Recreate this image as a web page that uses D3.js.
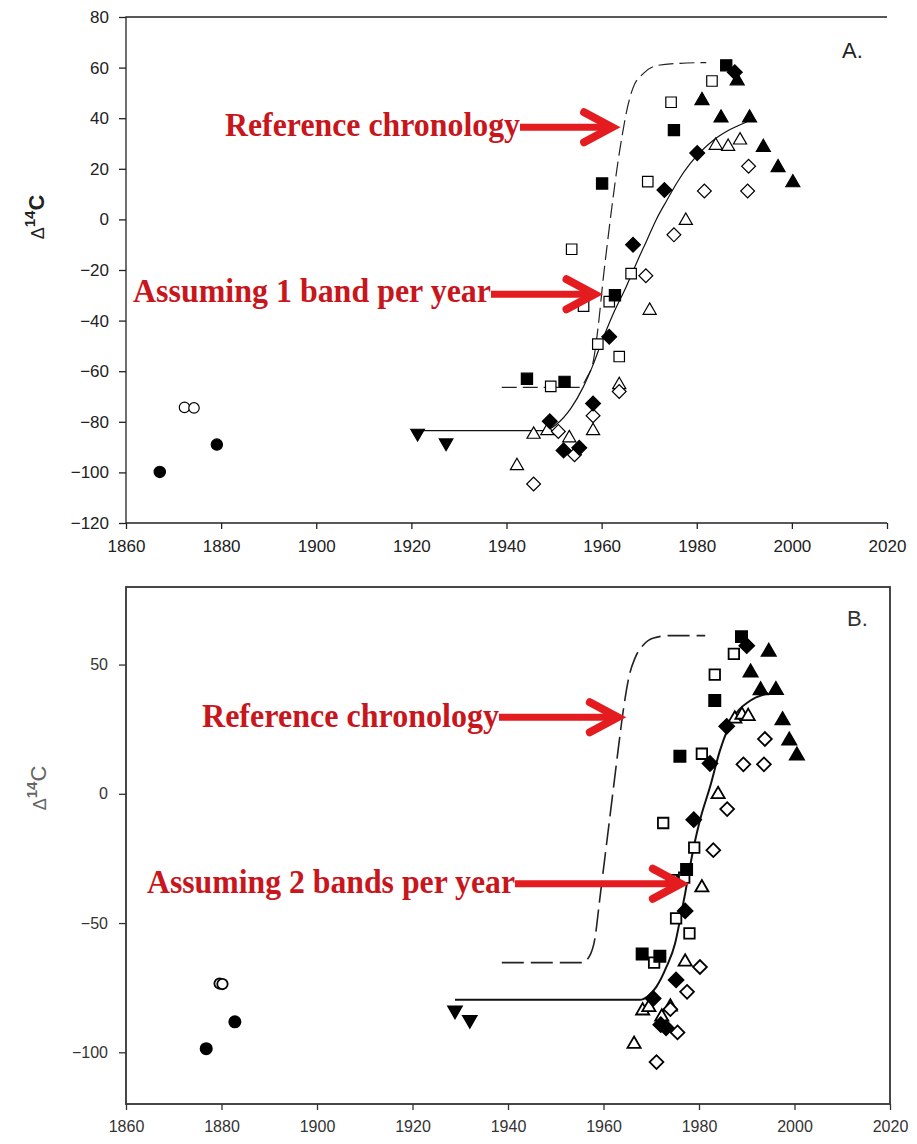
<!DOCTYPE html>
<html><head><meta charset="utf-8">
<script src="https://cdn.jsdelivr.net/npm/d3@7"></script>
<style>body{margin:0;background:#fff} svg{display:block}</style>
</head><body>
<script>
// ---------- shared ----------
const xTicks = [1860,1880,1900,1920,1940,1960,1980,2000,2020];
const yTicksA = [80,60,40,20,0,-20,-40,-60,-80,-100,-120];
const yTicksB = [50,0,-50,-100];

// ---------- Panel A (1 band per year) ----------
const A_filledCircle = [[1867.1,-99.8],[1879.1,-89]];
const A_openCircle   = [[1872.3,-74.3],[1874.3,-74.5]];
const A_downTri      = [[1921.3,-84.5],[1927.3,-88.3]];
const A_filledSquare = [[1944.3,-63],[1952.2,-64.2],[1960.1,14.2],[1962.8,-30],[1975.2,35.3],[1986.2,60.9]];
const A_openSquare   = [[1949.3,-66],[1953.7,-11.8],[1956.2,-34.3],[1959.2,-49.3],[1961.6,-32.5],[1963.7,-54.2],[1966.2,-21.4],[1969.7,14.9],[1974.6,46.3],[1983.2,54.7]];
const A_filledDiamond= [[1949.1,-79.8],[1952,-91.3],[1955.3,-90.3],[1958.2,-72.8],[1961.6,-46.4],[1966.6,-10],[1973.2,11.6],[1980.1,26.2],[1988,58.2]];
const A_openDiamond  = [[1945.7,-104.6],[1950.9,-83.8],[1954.3,-93],[1958.2,-77.6],[1963.7,-68],[1969.3,-22.3],[1975.2,-6.1],[1981.6,11.2],[1990.9,21],[1990.7,11.2]];
const A_openTri      = [[1942.2,-97.4],[1945.7,-85],[1948.6,-83.6],[1953.2,-86.4],[1958.2,-83.6],[1963.7,-65.4],[1970.1,-36],[1977.7,-0.5],[1984,29.2],[1986.6,28.8],[1989.1,31.3]];
const A_filledTri    = [[1981.1,47],[1985.1,40.1],[1988.5,54.8],[1991.1,40.1],[1994,28.5],[1997.1,20.5],[2000.2,14.5]];
const A_fit = [[1921,-83.5],[1948,-83.5],[1950.5,-81],[1953.6,-74.5],[1956.1,-66.4],[1958.2,-57.5],[1960,-48.5],[1962.4,-37.5],[1965.2,-26.5],[1967.5,-16.5],[1969.5,-8.3],[1971.5,0],[1973.7,7.5],[1976,15],[1978.6,22],[1983.5,31.3],[1987,35.5],[1990.5,38.5]];
const A_ref = [[1939,-66.4],[1955.3,-66.4],[1956.9,-62.5],[1958.3,-55.5],[1959.3,-42],[1960.3,-24],[1961.3,-8],[1962.3,7],[1963.3,21],[1964.3,33],[1965.4,44],[1966.6,52],[1968.8,57.7],[1971.6,60.8],[1976.5,61.7],[1982,62]];

// ---------- Panel B (2 bands per year) ----------
const B_filledCircle = [[1876.8,-98.6],[1882.8,-88.2]];
const B_openCircle   = [[1879.6,-73.4],[1880.2,-73.6]];
const B_downTri      = [[1928.9,-83.8],[1932,-87.4]];
const B_filledSquare = [[1968.1,-62],[1971.8,-62.8],[1976,14.5],[1977.4,-29.3],[1983.3,36.1],[1988.9,60.8]];
const B_openSquare   = [[1970.6,-65.3],[1972.5,-11.3],[1974.3,-33.4],[1975.2,-48.2],[1976.9,-32.4],[1978,-54],[1979,-20.8],[1980.6,15.5],[1983.3,46.1],[1987.3,54.1]];
const B_filledDiamond= [[1970.4,-79.2],[1972,-89.3],[1973.1,-90.5],[1975.2,-72],[1977.1,-45.3],[1978.9,-10],[1982.3,11.7],[1985.8,26.1],[1990,57.3]];
const B_openDiamond  = [[1971.1,-103.8],[1974,-83.3],[1975.5,-92.3],[1977.5,-76.6],[1980.2,-67],[1983,-21.8],[1985.9,-5.9],[1989.3,11.4],[1993.6,11.4],[1993.8,21.2]];
const B_openTri      = [[1966.4,-96.8],[1968.2,-83.9],[1969.5,-82.6],[1972.2,-86.3],[1974,-82.4],[1977.1,-65],[1980.6,-36.3],[1984,-0.2],[1987.5,29],[1989,30.5],[1990.3,30]];
const B_filledTri    = [[1990.8,46.9],[1992.9,40],[1994.6,54.9],[1996.1,40.1],[1997.5,28.4],[1998.9,20.6],[2000.5,14.8]];
const B_fit = [[1928.9,-79.7],[1967.6,-79.7],[1969.5,-78],[1971.1,-74.6],[1973.2,-66.9],[1975,-57.8],[1976,-49],[1977.1,-38.5],[1978.1,-28.3],[1979.2,-18],[1980.2,-10.2],[1982.3,2.6],[1984.4,16.8],[1987.2,29.5],[1990.7,36],[1994.5,38.9]];
const B_ref = [[1938.7,-65.3],[1955.5,-65.3],[1957,-63],[1958.2,-56],[1959.2,-41],[1960.2,-26],[1961.2,-11],[1962.2,4],[1963.2,19],[1964.2,33],[1965.3,45],[1966.6,52.5],[1968.3,57.5],[1970.5,60.3],[1973.9,61.2],[1981.3,61.2]];

// annotation text
const A_labels = ["Reference chronology","Assuming 1 band per year"];
const B_labels = ["Reference chronology","Assuming 2 bands per year"];

const W = 917, H = 1144;
const svg = d3.select("body").append("svg").attr("width",W).attr("height",H)
  .style("font-family","'Liberation Sans', Arial, sans-serif");

function sym(type, size){
  if(type==="circle") return d3.symbol(d3.symbolCircle, size)();
  if(type==="square" || type==="diamond") return d3.symbol(d3.symbolSquare, size)();
  return d3.symbol(d3.symbolTriangle, size)();
}
function rot(type){ return type==="diamond" ? 45 : (type==="down" ? 180 : 0); }

function drawPanel(cfg){
  const g = svg.append("g");
  const x = d3.scaleLinear([1860,2020],[cfg.x0,cfg.x1]);
  const y = d3.scaleLinear([-120,80],[cfg.y1,cfg.y0]);

  if(cfg.box){
    g.append("rect").attr("x",cfg.x0).attr("y",cfg.y0).attr("width",cfg.x1-cfg.x0).attr("height",cfg.y1-cfg.y0)
      .attr("fill","none").attr("stroke",cfg.axisColor).attr("stroke-width",1.8);
  } else {
    g.append("path").attr("d",`M${cfg.x1},${cfg.y0}H${cfg.x0}V${cfg.y1}H${cfg.x1}`)
      .attr("fill","none").attr("stroke",cfg.axisColor).attr("stroke-width",1.3);
  }
  const ax = g.append("g").attr("transform",`translate(0,${cfg.y1})`)
    .call(d3.axisBottom(x).tickValues(xTicks).tickFormat(d3.format("d")).tickSize(6).tickSizeOuter(0).tickPadding(cfg.xPad));
  const ay = g.append("g").attr("transform",`translate(${cfg.x0},0)`)
    .call(d3.axisLeft(y).tickValues(cfg.yTicks).tickSize(7).tickSizeOuter(0).tickPadding(cfg.yPad));
  [ax,ay].forEach(a=>{
    a.select(".domain").remove();
    a.selectAll("line").attr("stroke",cfg.axisColor).attr("stroke-width",1.3);
    a.selectAll("text").attr("fill",cfg.textColor).style("font-size",cfg.fs+"px")
      .style("font-family",cfg.tickFont);
  });

  const line = d3.line().x(d=>x(d[0])).y(d=>y(d[1])).curve(d3.curveMonotoneX);
  g.append("path").attr("d",line(cfg.ref)).attr("fill","none").attr("stroke","#222")
    .attr("stroke-width",cfg.refW).attr("stroke-dasharray",cfg.dash);
  g.append("path").attr("d",line(cfg.fit)).attr("fill","none").attr("stroke","#111")
    .attr("stroke-width",cfg.fitW);

  const series = [
    [cfg.openCircle,"circle",false,85],
    [cfg.filledCircle,"circle",true,100],
    [cfg.downTri,"down",true,80],
    [cfg.openTri,"tri",false,75],
    [cfg.openDiamond,"diamond",false,95],
    [cfg.openSquare,"square",false,110],
    [cfg.filledSquare,"square",true,125],
    [cfg.filledDiamond,"diamond",true,110],
    [cfg.filledTri,"tri",true,85],
  ];
  series.forEach(([data,type,filled,size])=>{
    g.selectAll(null).data(data).join("path")
      .attr("d",sym(type,size))
      .attr("transform",d=>`translate(${x(d[0])},${y(d[1])}) rotate(${rot(type)})`)
      .attr("fill",filled?"#000":"#fff")
      .attr("stroke","#000").attr("stroke-width",cfg.mStroke);
  });

  g.append("text").attr("x",cfg.letterX).attr("y",cfg.letterY).text(cfg.letter)
    .attr("fill",cfg.textColor).style("font-size","22px");

  const yl = g.append("text").attr("transform",`translate(${cfg.ylX},${cfg.ylY}) rotate(-90)`)
    .attr("text-anchor","middle").attr("fill",cfg.ylColor);
  yl.append("tspan").text("\u0394").style("font-size","18px");
  yl.append("tspan").text("14").attr("dy",-9).style("font-size","15px").style("font-weight","bold");
  yl.append("tspan").text("C").attr("dy",9).style("font-size","22px").style("font-weight",cfg.ylWeight);

  cfg.ann.forEach(a=>{
    g.append("text").attr("x",a.tx).attr("y",a.ty).text(a.label)
      .attr("textLength",a.len).attr("lengthAdjust","spacingAndGlyphs")
      .attr("fill","#c8161c").style("font-family","'Liberation Serif','Times New Roman',serif")
      .style("font-weight","bold").style("font-size","34px");
    const tx = x(a.tipYear), ty = y(a.tipVal);
    g.append("path").attr("d",`M${a.tx+a.len},${ty}H${tx-6}`)
      .attr("stroke","#e41b1f").attr("stroke-width",7).attr("fill","none");
    g.append("path").attr("d",`M${tx-28},${ty-15}L${tx},${ty}L${tx-28},${ty+15}`)
      .attr("stroke","#e41b1f").attr("stroke-width",8).attr("fill","none")
      .attr("stroke-linecap","round").attr("stroke-linejoin","miter");
  });
}

drawPanel({
  x0:126, x1:887, y0:17, y1:523, box:false, yTicks:yTicksA,
  axisColor:"#222", textColor:"#222", fs:17, xPad:11, yPad:10,
  tickFont:"'Liberation Sans Narrow','Arial Narrow','Liberation Sans',sans-serif",
  ref:A_ref, fit:A_fit, refW:1.2, fitW:1.2, dash:"15,6", mStroke:1.2,
  filledCircle:A_filledCircle, openCircle:A_openCircle, downTri:A_downTri,
  filledSquare:A_filledSquare, openSquare:A_openSquare, filledDiamond:A_filledDiamond,
  openDiamond:A_openDiamond, openTri:A_openTri, filledTri:A_filledTri,
  letter:"A.", letterX:842, letterY:58,
  ylX:44, ylY:217, ylColor:"#222", ylWeight:"bold",
  ann:[
    {label:A_labels[0], tx:225, ty:136, len:295, tipYear:1962.2, tipVal:36.4},
    {label:A_labels[1], tx:133, ty:302, len:358, tipYear:1958.5, tipVal:-29.6}
  ]
});

drawPanel({
  x0:126, x1:890, y0:587, y1:1104, box:true, yTicks:yTicksB,
  axisColor:"#333", textColor:"#333", fs:16, xPad:11, yPad:11,
  tickFont:"'Liberation Sans', Arial, sans-serif",
  ref:B_ref, fit:B_fit, refW:1.6, fitW:2, dash:"22,7", mStroke:1.8,
  filledCircle:B_filledCircle, openCircle:B_openCircle, downTri:B_downTri,
  filledSquare:B_filledSquare, openSquare:B_openSquare, filledDiamond:B_filledDiamond,
  openDiamond:B_openDiamond, openTri:B_openTri, filledTri:B_filledTri,
  letter:"B.", letterX:847, letterY:626,
  ylX:46, ylY:788, ylColor:"#666", ylWeight:"normal",
  ann:[
    {label:B_labels[0], tx:202, ty:727, len:297, tipYear:1963.0, tipVal:29.6},
    {label:B_labels[1], tx:147, ty:893, len:368, tipYear:1976.2, tipVal:-34.8}
  ]
});
</script>
</body></html>
